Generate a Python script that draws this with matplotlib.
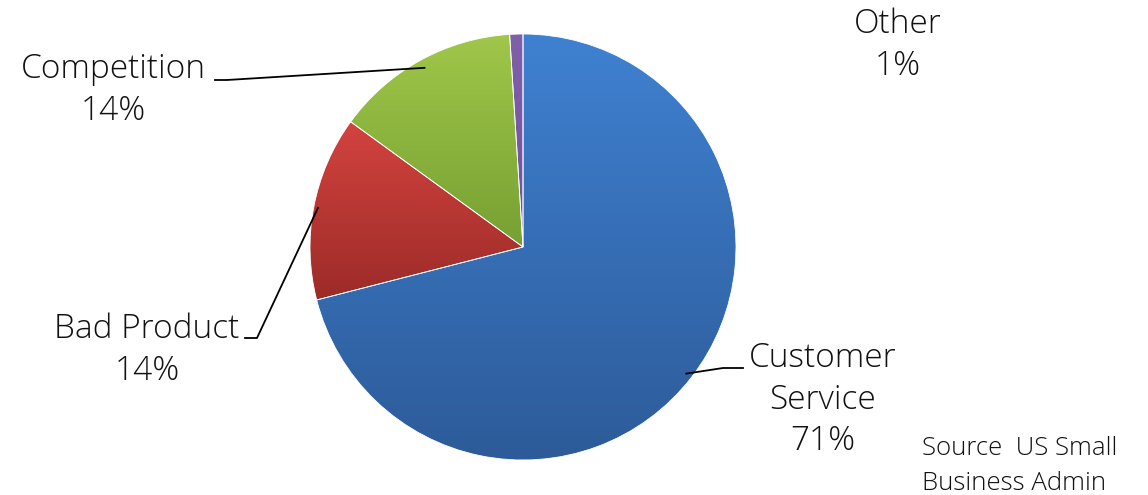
import numpy as np
import matplotlib.pyplot as plt
from matplotlib.colors import LinearSegmentedColormap

# Data
categories = ["Customer\nService", "Bad Product", "Competition", "Other"]
shares = [71, 14, 14, 1]
top_colors = ["#3F81D1", "#D3433F", "#A0C74A", "#8060AA"]
bottom_colors = ["#2D5B99", "#9C2B28", "#76A032", "#7050A0"]

W, H = 1148, 495
fig = plt.figure(figsize=(W / 100, H / 100), dpi=100)
fig.patch.set_facecolor("white")

# pie centre at (523, 247) px, radius 213 px
cx, cy, r = 523, 247, 213
ax = fig.add_axes([(cx - r) / W, (H - cy - r) / H, 2 * r / W, 2 * r / H])
wedges, _ = ax.pie(shares, startangle=90, counterclock=False, radius=1,
                   wedgeprops=dict(edgecolor="white", linewidth=0.6))

# vertical gradient inside each wedge
for w, c_top, c_bot in zip(wedges, top_colors, bottom_colors):
    t = np.radians(np.linspace(w.theta1, w.theta2, 200))
    ys = np.concatenate([[0], np.sin(t)])
    y0, y1 = ys.min(), ys.max()
    cmap = LinearSegmentedColormap.from_list("g", [c_bot, c_top])
    grad = np.linspace(0, 1, 256).reshape(-1, 1)
    im = ax.imshow(grad, cmap=cmap, origin="lower", aspect="auto",
                   extent=[-1, 1, y0, y1], interpolation="bilinear", zorder=1)
    im.set_clip_path(w)
    w.set_facecolor("none")
    w.set_zorder(2)

ax.set_xlim(-1, 1)
ax.set_ylim(-1, 1)
ax.set_aspect("equal")
ax.axis("off")


def fpx(x, y):
    return x / W, 1 - y / H


font = "Open Sans"
label_size = 24

# label block centre (px) and leader start (px) for each category
label_pos = [(823, 400), (147, 350), (113, 90), (898, 45)]
leader_start = [[(743, 368), (723, 368)], [(245, 338), (257, 338)],
                [(215, 80), (227, 80)], None]
leader_radius = [0.97, 0.98, 0.96, None]

pct = [f"{v}%" for v in shares]
for i, (name, p) in enumerate(zip(categories, pct)):
    x, y = label_pos[i]
    fig.text(*fpx(x, y), f"{name}\n{p}", ha="center", va="center",
             multialignment="center", fontsize=label_size, family=font,
             fontweight="light", linespacing=1.32, color="#111111")
    if leader_start[i] is None:
        continue
    w = wedges[i]
    mid = np.radians((w.theta1 + w.theta2) / 2)
    tip = (leader_radius[i] * np.cos(mid), leader_radius[i] * np.sin(mid))
    inv = ax.transData.inverted()
    pts = [inv.transform((px, H - py)) for px, py in leader_start[i]]
    xs = [p[0] for p in pts] + [tip[0]]
    ys = [p[1] for p in pts] + [tip[1]]
    ax.plot(xs, ys, color="black", lw=1.3, clip_on=False, zorder=3)

fig.text(*fpx(922, 466), "Source  US Small\nBusiness Admin", ha="left",
         va="center", fontsize=18.5, family=font, fontweight="light",
         linespacing=1.5, color="#111111")

fig.savefig("out.png", dpi=100)
